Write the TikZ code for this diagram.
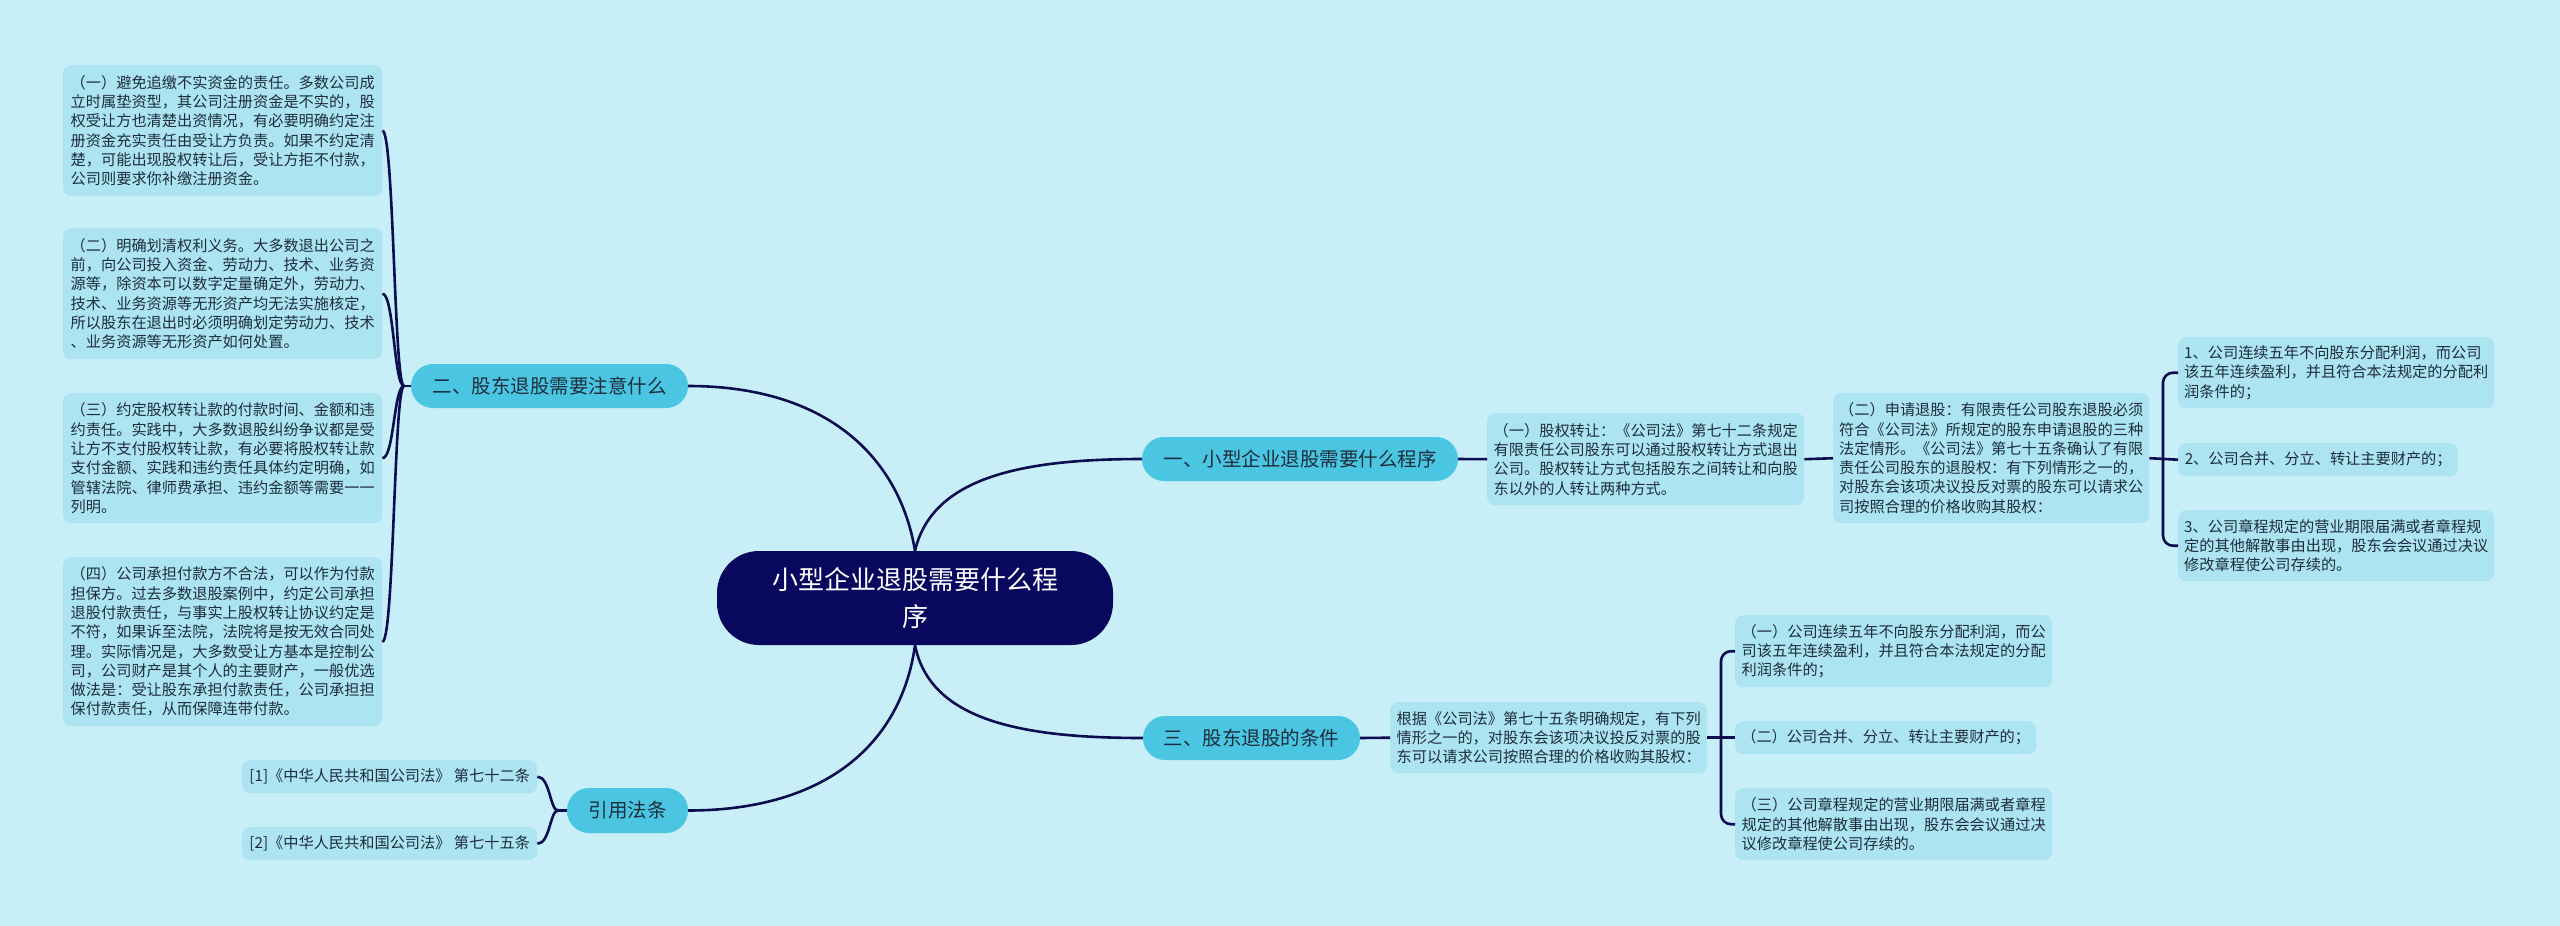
\documentclass[tikz,border=0pt]{standalone}
\usepackage{fontspec}
\newfontfamily\cjk{Noto Sans CJK SC}
\definecolor{bgc}{RGB}{200,239,247}
\definecolor{leafc}{RGB}{172,228,242}
\definecolor{branchc}{RGB}{74,198,226}
\definecolor{rootc}{RGB}{8,8,94}
\definecolor{linec}{RGB}{12,12,80}
\definecolor{txtc}{RGB}{30,45,60}
\tikzset{
  leaf/.style={fill=leafc, rounded corners=8pt, anchor=north west, align=left, text=txtc,
    font=\cjk\fontsize{15.2pt}{19.3pt}\selectfont, inner sep=0pt},
  branch/.style={fill=branchc, rounded corners=22pt, minimum height=44pt, text=txtc,
    font=\cjk\fontsize{19.5pt}{24pt}\selectfont, inner sep=0pt},
  rootbox/.style={fill=rootc, rounded corners=42pt, text=white, align=center,
    font=\cjk\fontsize{26pt}{37pt}\selectfont, inner sep=0pt, minimum width=396pt, minimum height=94pt},
  conn/.style={draw=linec, line width=2.6pt},
}
\begin{document}
\begin{tikzpicture}[x=1pt,y=-1pt]
\fill[bgc] (0,0) rectangle (2560,926);
\useasboundingbox (0,0) rectangle (2560,926);

% root
\node[rootbox] (root) at (915,598) {小型企业退股需要什么程\\序};

% branches
\node[branch, minimum width=316pt] (b1) at (1300,459) {一、小型企业退股需要什么程序};
\node[branch, minimum width=277pt] (b2) at (549.5,386) {二、股东退股需要注意什么};
\node[branch, minimum width=217pt] (b3) at (1251.5,738) {三、股东退股的条件};
\node[branch, minimum width=121pt, minimum height=45pt] (b4) at (627.5,810.5) {引用法条};

% left leaves
\node[leaf, minimum width=319pt, minimum height=131pt] (l1) at (63,65) {（一）避免追缴不实资金的责任。多数公司成\\立时属垫资型，其公司注册资金是不实的，股\\权受让方也清楚出资情况，有必要明确约定注\\册资金充实责任由受让方负责。如果不约定清\\楚，可能出现股权转让后，受让方拒不付款，\\公司则要求你补缴注册资金。};
\node[leaf, minimum width=319pt, minimum height=131pt] (l2) at (63,228) {（二）明确划清权利义务。大多数退出公司之\\前，向公司投入资金、劳动力、技术、业务资\\源等，除资本可以数字定量确定外，劳动力、\\技术、业务资源等无形资产均无法实施核定，\\所以股东在退出时必须明确划定劳动力、技术\\、业务资源等无形资产如何处置。};
\node[leaf, minimum width=319pt, minimum height=130pt] (l3) at (63,393) {（三）约定股权转让款的付款时间、金额和违\\约责任。实践中，大多数退股纠纷争议都是受\\让方不支付股权转让款，有必要将股权转让款\\支付金额、实践和违约责任具体约定明确，如\\管辖法院、律师费承担、违约金额等需要一一\\列明。};
\node[leaf, minimum width=319pt, minimum height=169pt] (l4) at (63,557) {（四）公司承担付款方不合法，可以作为付款\\担保方。过去多数退股案例中，约定公司承担\\退股付款责任，与事实上股权转让协议约定是\\不符，如果诉至法院，法院将是按无效合同处\\理。实际情况是，大多数受让方基本是控制公\\司，公司财产是其个人的主要财产，一般优选\\做法是：受让股东承担付款责任，公司承担担\\保付款责任，从而保障连带付款。};

% references
\node[leaf, minimum width=295pt, minimum height=33pt] (r1) at (242,760) {[1]《中华人民共和国公司法》 第七十二条};
\node[leaf, minimum width=295pt, minimum height=33pt] (r2) at (242,827) {[2]《中华人民共和国公司法》 第七十五条};

% right side, branch 1
\node[leaf, minimum width=317pt, minimum height=92pt] (a1) at (1487,413) {（一）股权转让：《公司法》第七十二条规定\\有限责任公司股东可以通过股权转让方式退出\\公司。股权转让方式包括股东之间转让和向股\\东以外的人转让两种方式。};
\node[leaf, minimum width=316pt, minimum height=130pt] (a2) at (1833,393) {（二）申请退股：有限责任公司股东退股必须\\符合《公司法》所规定的股东申请退股的三种\\法定情形。《公司法》第七十五条确认了有限\\责任公司股东的退股权：有下列情形之一的，\\对股东会该项决议投反对票的股东可以请求公\\司按照合理的价格收购其股权：};
\node[leaf, minimum width=316pt, minimum height=71pt] (s1) at (2178,337) {1、公司连续五年不向股东分配利润，而公司\\该五年连续盈利，并且符合本法规定的分配利\\润条件的；};
\node[leaf, minimum width=280pt, minimum height=33pt] (s2) at (2178,443) {2、公司合并、分立、转让主要财产的；};
\node[leaf, minimum width=316pt, minimum height=71pt] (s3) at (2178,510) {3、公司章程规定的营业期限届满或者章程规\\定的其他解散事由出现，股东会会议通过决议\\修改章程使公司存续的。};

% right side, branch 3
\node[leaf, minimum width=317pt, minimum height=71pt] (c0) at (1390,702) {根据《公司法》第七十五条明确规定，有下列\\情形之一的，对股东会该项决议投反对票的股\\东可以请求公司按照合理的价格收购其股权：};
\node[leaf, minimum width=317pt, minimum height=72pt] (c1) at (1735,615) {（一）公司连续五年不向股东分配利润，而公\\司该五年连续盈利，并且符合本法规定的分配\\利润条件的；};
\node[leaf, minimum width=301pt, minimum height=33pt] (c2) at (1735,721) {（二）公司合并、分立、转让主要财产的；};
\node[leaf, minimum width=317pt, minimum height=72pt] (c3) at (1735,788) {（三）公司章程规定的营业期限届满或者章程\\规定的其他解散事由出现，股东会会议通过决\\议修改章程使公司存续的。};

% main curves
\draw[conn] (root.north) .. controls (900,460) and (830,386) .. (b2.east);
\draw[conn] (root.north) .. controls (932,478) and (1020,459) .. (b1.west);
\draw[conn] (root.south) .. controls (930,720) and (1020,738) .. (b3.west);
\draw[conn] (root.south) .. controls (902,740) and (830,810.5) .. (b4.east);

% left bracket
\coordinate (hl) at (404,386);
\coordinate (vl) at (394,0);
\draw[conn] (b2.west) -- (hl);
\foreach \n in {l1,l2,l3,l4}{
  \draw[conn] (hl) .. controls (394,386) and (\n.east -| vl) .. (\n.east);
}
% references bracket
\coordinate (hr) at (558,810.5);
\coordinate (vr) at (550,0);
\draw[conn] (b4.west) -- (hr);
\foreach \n in {r1,r2}{
  \draw[conn] (hr) .. controls (550,810.5) and (\n.east -| vr) .. (\n.east);
}

% right connectors
\draw[conn] (b1.east) -- (a1.west);
\draw[conn] (a1.east) -- (a2.west);
\coordinate (hb) at (2163,459);
\draw[conn] (a2.east) -- (s2.west);
\draw[conn, rounded corners=10pt] (s1.west) -| (hb) |- (s3.west);

\draw[conn] (b3.east) -- (c0.west);
\coordinate (hc) at (1721,737.5);
\draw[conn] (c0.east) -- (c2.west);
\draw[conn, rounded corners=10pt] (c1.west) -| (hc) |- (c3.west);
\end{tikzpicture}
\end{document}
